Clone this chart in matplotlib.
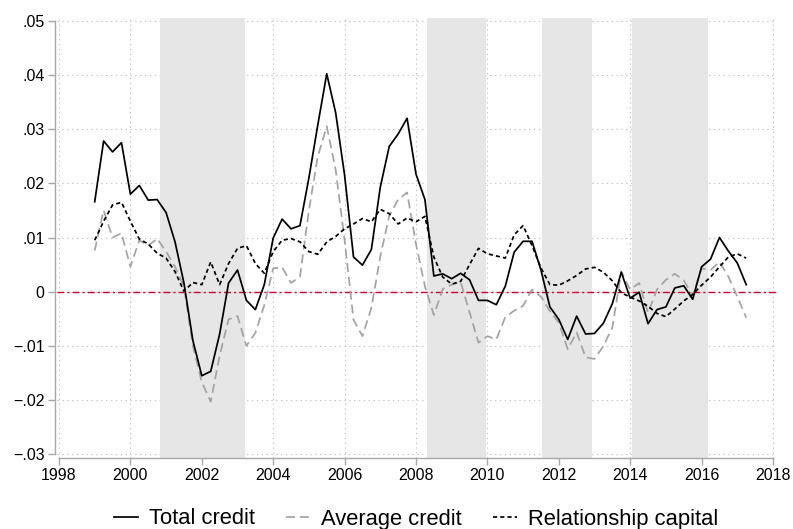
import numpy as np
import matplotlib
matplotlib.use("Agg")
import matplotlib.pyplot as plt

plt.rcParams['font.family'] = ['Liberation Sans', 'DejaVu Sans']
plt.rcParams['lines.scale_dashes'] = False

# Quarterly observations, 1999Q1 - 2017Q2
start_year = 1999.0
total_credit = [
    0.0166, 0.0278, 0.0258, 0.0275, 0.0180, 0.0196, 0.0169, 0.0170,
    0.0146, 0.0092, 0.0016, -0.0090, -0.0155, -0.0147, -0.0078, 0.0016,
    0.0040, -0.0016, -0.0033, 0.0013, 0.0099, 0.0134, 0.0116, 0.0122,
    0.0210, 0.0308, 0.0402, 0.0330, 0.0215, 0.0064, 0.0049, 0.0078,
    0.0193, 0.0268, 0.0291, 0.0320, 0.0217, 0.0170, 0.0029, 0.0033,
    0.0024, 0.0034, 0.0022, -0.0016, -0.0016, -0.0024, 0.0010, 0.0073,
    0.0093, 0.0093, 0.0040, -0.0028, -0.0051, -0.0088, -0.0045, -0.0078,
    -0.0077, -0.0058, -0.0022, 0.0036, -0.0012, -0.0001, -0.0059, -0.0033,
    -0.0028, 0.0007, 0.0011, -0.0014, 0.0046, 0.0060, 0.0100, 0.0075,
    0.0053, 0.0013,
]
average_credit = [
    0.0076, 0.0150, 0.0100, 0.0108, 0.0046, 0.0095, 0.0085, 0.0098,
    0.0074, 0.0046, 0.0010, -0.0100, -0.0167, -0.0203, -0.0118, -0.0051,
    -0.0045, -0.0100, -0.0076, -0.0025, 0.0043, 0.0045, 0.0016, 0.0028,
    0.0150, 0.0250, 0.0305, 0.0225, 0.0095, -0.0052, -0.0082, -0.0030,
    0.0065, 0.0140, 0.0170, 0.0183, 0.0088, 0.0010, -0.0043, 0.0005,
    0.0013, 0.0018, -0.0038, -0.0094, -0.0082, -0.0088, -0.0047, -0.0035,
    -0.0026, 0.0004, -0.0009, -0.0036, -0.0057, -0.0106, -0.0075, -0.0121,
    -0.0124, -0.0100, -0.0066, 0.0037, 0.0004, 0.0016, -0.0039, 0.0004,
    0.0022, 0.0033, 0.0021, -0.0007, 0.0043, 0.0040, 0.0055, 0.0028,
    -0.0009, -0.0048,
]
relationship_capital = [
    0.0095, 0.0130, 0.0160, 0.0165, 0.0130, 0.0097, 0.0088, 0.0071,
    0.0062, 0.0037, 0.0001, 0.0017, 0.0013, 0.0055, 0.0013, 0.0052,
    0.0080, 0.0085, 0.0052, 0.0034, 0.0074, 0.0095, 0.0098, 0.0092,
    0.0074, 0.0069, 0.0092, 0.0102, 0.0116, 0.0125, 0.0135, 0.0129,
    0.0152, 0.0144, 0.0125, 0.0136, 0.0129, 0.0139, 0.0064, 0.0027,
    0.0014, 0.0019, 0.0050, 0.0080, 0.0070, 0.0066, 0.0062, 0.0105,
    0.0122, 0.0085, 0.0044, 0.0013, 0.0012, 0.0020, 0.0030, 0.0042,
    0.0045, 0.0036, 0.0020, -0.0002, -0.0010, -0.0017, -0.0027, -0.0040,
    -0.0046, -0.0032, -0.0017, -0.0005, 0.0012, 0.0027, 0.0046, 0.0064,
    0.0070, 0.0062,
]

# Shaded periods (start, end) in decimal years
recessions = [(2000.82, 2003.22), (2008.32, 2009.97), (2011.53, 2012.92), (2014.04, 2016.19)]

x_ticks = list(range(1998, 2019, 2))
y_ticks = [-0.03, -0.02, -0.01, 0.0, 0.01, 0.02, 0.03, 0.04, 0.05]
y_labels = ["\u2212.03", "\u2212.02", "\u2212.01", "0", ".01", ".02", ".03", ".04", ".05"]
series_names = ["Total credit", "Average credit", "Relationship capital"]

dates = start_year + np.arange(len(total_credit)) / 4.0

fig = plt.figure(figsize=(7.93, 5.29), dpi=100)
ax = fig.add_axes([57 / 793, 71 / 529, 719 / 793, 440 / 529])

axis_grey = "#a8a8a8"

ax.set_xlim(1997.944, 2018.084)
ax.set_ylim(-0.03068, 0.0505)

# grid first, shading over it, then the series
ax.set_xticks(x_ticks)
ax.set_yticks(y_ticks)
ax.set_yticklabels(y_labels)
ax.grid(True, color="#c4c4c4", linestyle=(0, (1, 2.5)), linewidth=0.8, zorder=0)
ax.set_axisbelow(True)

for a, b in recessions:
    ax.axvspan(a, b, color="#e6e6e6", lw=0, zorder=1)

ax.axhline(0, color="#d6002e", linewidth=1.0, dashes=(5, 2.2, 1.5, 2.2), zorder=2)

ax.plot(dates, total_credit, color="black", linewidth=1.25, zorder=4, label=series_names[0])
ax.plot(dates, average_credit, color="#a3a3a3", linewidth=1.25, dashes=(6.5, 3.5), zorder=3,
        label=series_names[1])
ax.plot(dates, relationship_capital, color="black", linewidth=1.25, dashes=(3, 2.2), zorder=4,
        label=series_names[2])

for side in ("top", "right"):
    ax.spines[side].set_visible(False)
ax.spines["left"].set_position(("outward", 1.5))
ax.spines["left"].set_bounds(-0.03, 0.05)
ax.spines["bottom"].set_bounds(1998, 2018)
for side in ("left", "bottom"):
    ax.spines[side].set_color(axis_grey)
    ax.spines[side].set_linewidth(1.0)

ax.tick_params(axis="both", colors=axis_grey, labelcolor="black", length=5, width=1.0,
               labelsize=11.5, pad=2.5)

# legend centred under the plot region
handles, labels = ax.get_legend_handles_labels()
fig.legend(handles, labels, loc="center", bbox_to_anchor=(416 / 793, 10 / 529), ncol=3,
           frameon=False, fontsize=15.8, handlelength=1.1, handletextpad=0.5,
           columnspacing=1.4, borderaxespad=0, borderpad=0)

fig.savefig("out.png", dpi=100)
